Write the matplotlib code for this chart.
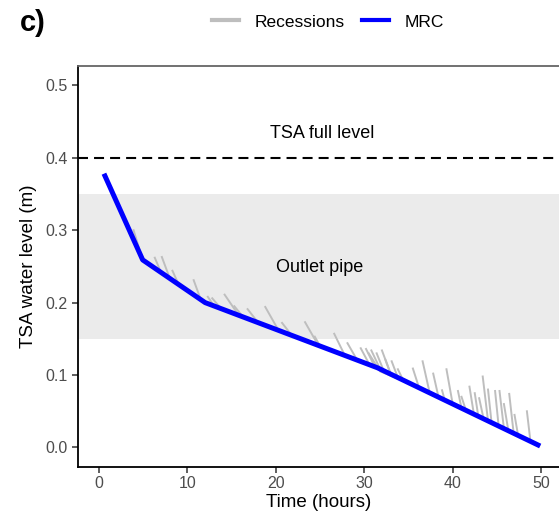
import numpy as np
import matplotlib
matplotlib.use("Agg")
import matplotlib.pyplot as plt
from matplotlib.lines import Line2D

plt.rcParams['font.family'] = ['Liberation Sans', 'DejaVu Sans']

# ---- data ----
# master recession curve (MRC) break points
mrc_t = [0.55, 4.93, 12.0, 31.5, 49.9]
mrc_h = [0.378, 0.259, 0.200, 0.110, 0.002]

# individual recessions: start point, time where they meet the MRC, end time
rec_t0 = [0.8, 3.9, 6.3, 7.1, 8.3, 10.7, 12.3, 12.8, 14.2, 15.3, 16.8, 18.8,
          20.7, 23.3, 24.4, 26.6, 28.1, 29.6, 30.2, 30.8, 31.4, 32.0, 32.4,
          33.1, 33.8, 35.5, 36.6, 37.8, 38.8, 39.3, 40.6, 41.0, 41.9, 42.5,
          43.0, 43.4, 44.0, 44.8, 45.3, 45.8, 46.4, 47.0, 48.4]
rec_h0 = [0.375, 0.300, 0.262, 0.263, 0.244, 0.231, 0.208, 0.206, 0.211,
          0.195, 0.191, 0.194, 0.172, 0.173, 0.153, 0.157, 0.144, 0.137,
          0.136, 0.134, 0.130, 0.134, 0.121, 0.119, 0.108, 0.109, 0.119,
          0.102, 0.079, 0.108, 0.078, 0.070, 0.084, 0.075, 0.068, 0.098,
          0.080, 0.078, 0.078, 0.060, 0.074, 0.045, 0.050]
rec_tj = [1.0, 4.9, 7.0, 8.0, 9.0, 11.5, 13.0, 13.8, 15.8, 16.3, 18.0, 20.3,
          21.8, 24.8, 25.0, 27.8, 29.2, 30.6, 31.2, 31.8, 32.2, 33.0, 33.0,
          33.8, 34.4, 36.2, 37.4, 38.4, 39.1, 40.0, 41.0, 41.5, 42.4, 42.9,
          43.5, 44.0, 44.4, 45.2, 45.8, 46.3, 46.9, 47.4, 48.8]
rec_te = [5.0, 6.0, 8.0, 9.0, 10.0, 13.0, 14.0, 15.0, 17.0, 18.0, 19.0, 22.0,
          23.0, 26.0, 26.0, 29.0, 30.0, 32.0, 33.0, 33.0, 34.0, 34.0, 34.5,
          35.0, 36.0, 38.0, 39.0, 40.0, 40.5, 41.5, 42.5, 42.8, 44.0, 44.5,
          45.0, 45.5, 46.0, 47.0, 47.5, 48.0, 48.5, 49.0, 49.8]

# one recession running just under the MRC around the second break
low_t = [30.5, 31.8, 34.0]
low_h = [0.130, 0.105, 0.094]

full_level = 0.40
pipe_band = (0.15, 0.35)

# ---- figure ----
fig = plt.figure(figsize=(5.59, 5.22), dpi=100)
ax = fig.add_axes([0.139, 0.106, 0.861, 0.768])

ax.axhspan(*pipe_band, color='#EBEBEB', lw=0, zorder=0)
ax.axhline(full_level, color='black', lw=1.5, ls=(0, (4.8, 2.9)), zorder=1)

grey = '#BEBEBE'
for t0, h0, tj, te in zip(rec_t0, rec_h0, rec_tj, rec_te):
    seg_t = [t0, tj] + [t for t in mrc_t if tj < t < te] + [te]
    seg_h = [h0] + list(np.interp(seg_t[1:], mrc_t, mrc_h))
    ax.plot(seg_t, seg_h, color=grey, lw=1.4, zorder=2)
ax.plot(low_t, low_h, color=grey, lw=1.4, zorder=2)

ax.plot(mrc_t, mrc_h, color='#0000FF', lw=3.6, solid_capstyle='butt', zorder=3)

ax.text(25.2, 0.434, 'TSA full level', ha='center', va='center', fontsize=13)
ax.text(25.0, 0.249, 'Outlet pipe', ha='center', va='center', fontsize=13)

ax.set_xlim(-2.42, 52.03)
ax.set_ylim(-0.0265, 0.527)
ax.set_xticks([0, 10, 20, 30, 40, 50])
ax.set_yticks([0.0, 0.1, 0.2, 0.3, 0.4, 0.5])
ax.set_yticklabels(['0.0', '0.1', '0.2', '0.3', '0.4', '0.5'])
ax.tick_params(labelsize=11.5, labelcolor='#4D4D4D', length=4, width=1.1,
               color='#333333', pad=3)
ax.set_xlabel('Time (hours)', fontsize=13.5, labelpad=2)
ax.set_ylabel('TSA water level (m)', fontsize=13.5, labelpad=6)

ax.spines['right'].set_visible(False)
ax.spines['left'].set_linewidth(1.3)
ax.spines['bottom'].set_linewidth(1.3)
ax.spines['top'].set_linewidth(1.3)
ax.spines['top'].set_color('#666666')

handles = [Line2D([], [], color=grey, lw=3),
           Line2D([], [], color='#0000FF', lw=3)]
fig.legend(handles, ['Recessions', 'MRC'], loc='center', ncol=2,
           bbox_to_anchor=(0.587, 0.958), frameon=False, fontsize=12.5,
           handlelength=1.55, handletextpad=0.9, columnspacing=1.0)

fig.text(0.035, 0.955, 'c)', fontsize=21, fontweight='bold', va='center')

fig.savefig('out.png', dpi=100)
